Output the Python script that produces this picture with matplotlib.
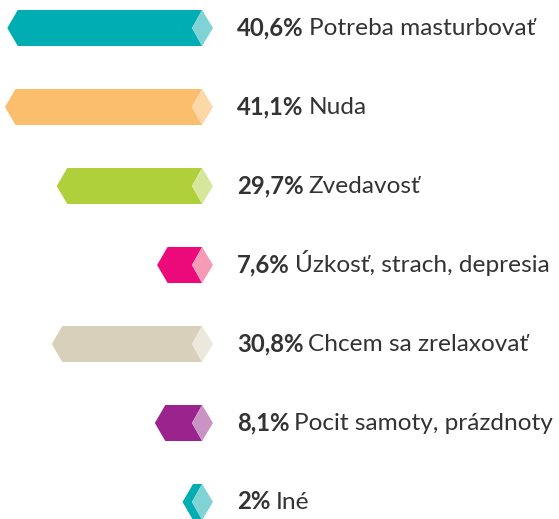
import matplotlib
matplotlib.use("Agg")
import matplotlib.pyplot as plt
from matplotlib.patches import Polygon

# data
labels = ["Potreba masturbovať", "Nuda", "Zvedavosť", "Úzkosť, strach, depresia",
          "Chcem sa zrelaxovať", "Pocit samoty, prázdnoty", "Iné"]
values = [40.6, 41.1, 29.7, 7.6, 30.8, 8.1, 2.0]
value_text = ["40,6%", "41,1%", "29,7%", "7,6%", "30,8%", "8,1%", "2%"]
dark = ["#00adb2", "#fbbe6d", "#afcf3b", "#ec0a7b", "#d8d0bb", "#9a238d", "#00adb2"]
light = ["#80d3d5", "#fdd8a7", "#d6e79c", "#f59bb6", "#ece8dd", "#c994c4", "#80d3d5"]

W, H = 559, 519
fig = plt.figure(figsize=(W / 100, H / 100), dpi=100)
ax = fig.add_axes([0, 0, 1, 1])

px = 4.54          # pixels per percentage point
x0 = 213           # pixel of bar right tip
ax.set_xlim(-x0 / px, (W - x0) / px)
row = 79.0
ax.set_ylim((H - 28) / row, -28 / row)
ax.axis("off")

half = 18 / row          # half bar height
tip = 10.5 / px          # depth of left point
dia = 21 / px            # diamond width
extra = 21.4 / px        # constant part of bar length

for i, (v, c1, c2) in enumerate(zip(values, dark, light)):
    left = -(v + extra)
    mid = -dia / 2 - 0.4 / px
    body = [(left, i), (left + tip, i - half), (mid, i - half), (-dia, i),
            (mid, i + half), (left + tip, i + half)]
    ax.add_patch(Polygon(body, closed=True, facecolor=c1, edgecolor="none"))
    diamond = [(mid, i - half), (0, i), (mid, i + half), (-dia, i)]
    ax.add_patch(Polygon(diamond, closed=True, facecolor=c2, edgecolor="none"))

    t = ax.annotate(value_text[i], xy=(0, i), xytext=(24, -7), textcoords="offset pixels",
                    ha="left", va="baseline", fontsize=17.2, fontweight="bold",
                    family="Lato", color="#333333")
    ax.annotate(labels[i], xy=(1, 0), xycoords=t, xytext=(5, 0), textcoords="offset pixels",
                ha="left", va="bottom", fontsize=17.6, family="Lato", color="#333333")

fig.savefig("out.png", dpi=100)
